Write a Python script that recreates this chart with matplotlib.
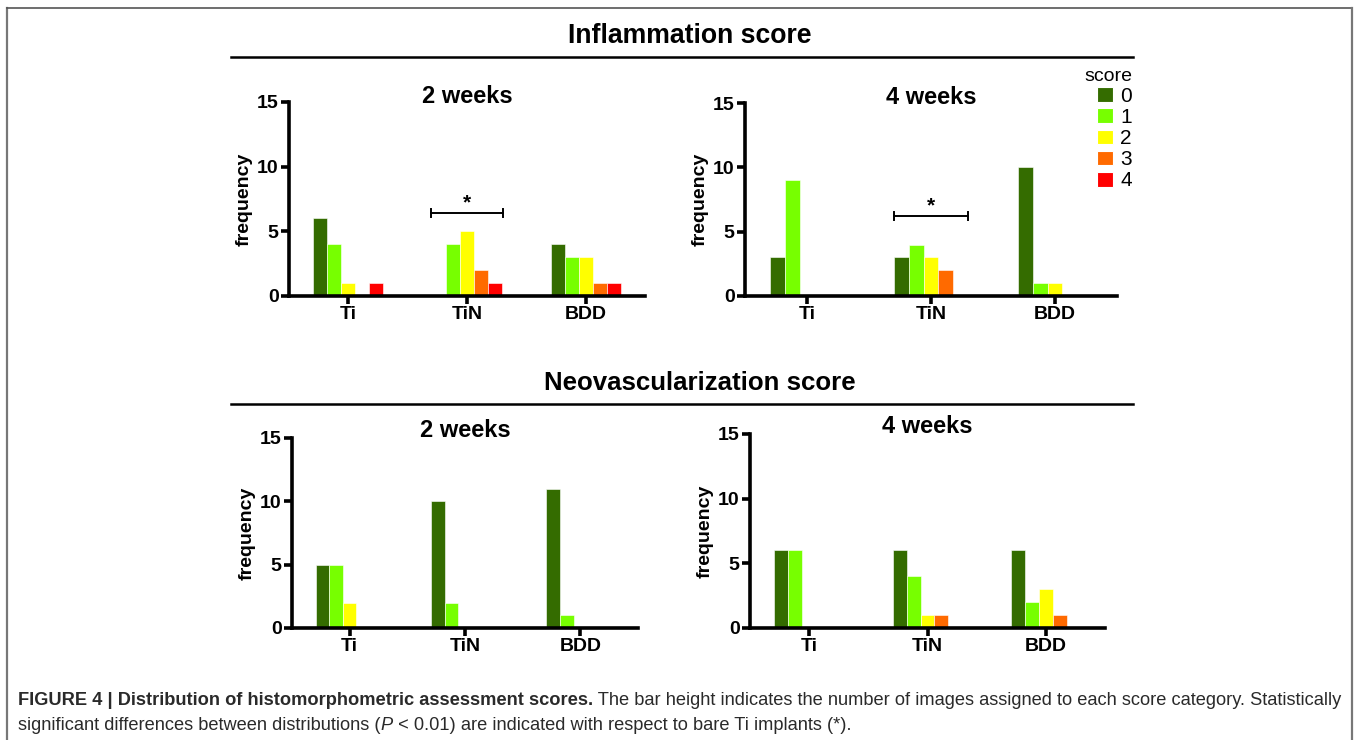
import numpy as np
import matplotlib.pyplot as plt
from matplotlib.patches import Patch
from matplotlib.lines import Line2D

plt.rcParams['font.family'] = ['Liberation Sans', 'DejaVu Sans']

W, H = 1358, 740

groups = ["Ti", "TiN", "BDD"]
scores = ["0", "1", "2", "3", "4"]
colors = ["#346C00", "#77FF00", "#FFFF00", "#FF6A00", "#FF0000"]

# rows = Ti, TiN, BDD ; columns = score 0..4
infl_2w = [[6, 4, 1, 0, 1], [0, 4, 5, 2, 1], [4, 3, 3, 1, 1]]
infl_4w = [[3, 9, 0, 0, 0], [3, 4, 3, 2, 0], [10, 1, 1, 0, 0]]
neo_2w = [[5, 5, 2, 0, 0], [10, 2, 0, 0, 0], [11, 1, 0, 0, 0]]
neo_4w = [[6, 6, 0, 0, 0], [6, 4, 1, 1, 0], [6, 2, 3, 1, 0]]

# significance bar (TiN vs Ti) for inflammation panels
sig_y = [6.4, 6.2]


def fx(x):
    return x / W


def fy(y):
    return 1 - y / H


fig = plt.figure(figsize=(W / 100, H / 100), dpi=100)

# frame around the figure
fig.add_artist(Line2D([fx(7), fx(7)], [fy(8), 0], color="#777777", lw=1.6))
fig.add_artist(Line2D([fx(7), fx(1352)], [fy(8), fy(8)], color="#555555", lw=1.2))
fig.add_artist(Line2D([fx(1352), fx(1352)], [fy(8), 0], color="#777777", lw=1.6))


def panel(box, data, title, sig=None, title_y=1.0):
    # box = (left, top, right, bottom) in pixels
    l, t, r, b = box
    ax = fig.add_axes([fx(l), fy(b), fx(r - l), (b - t) / H])
    vals = np.array(data)
    x = np.arange(len(groups))
    w = 0.118
    for j in range(len(scores)):
        ax.bar(x + (j - 2) * w, vals[:, j], width=w, color=colors[j],
               edgecolor="white", linewidth=0.4, zorder=2)
    ax.set_xlim(-0.5, 2.5)
    ax.set_ylim(0, 15)
    ax.set_yticks([0, 5, 10, 15])
    ax.set_xticks(x)
    ax.set_xticklabels(groups)
    for s in ["top", "right"]:
        ax.spines[s].set_visible(False)
    for s in ["left", "bottom"]:
        ax.spines[s].set_linewidth(2.6)
    ax.tick_params(direction="out", length=6, width=2.6, labelsize=14, pad=1.5)
    for lab in ax.get_xticklabels() + ax.get_yticklabels():
        lab.set_fontweight("bold")
    ax.set_ylabel("frequency", fontsize=14, fontweight="bold", labelpad=3)
    ax.set_title(title, fontsize=17, fontweight="bold", y=title_y)
    if sig is not None:
        ax.plot([0.7, 1.3], [sig, sig], color="black", lw=1.4, zorder=3)
        for xe in [0.7, 1.3]:
            ax.plot([xe, xe], [sig - 0.3, sig + 0.3], color="black", lw=1.4, zorder=3)
        ax.text(1.0, sig + 0.1, "*", ha="center", va="bottom", fontsize=15, fontweight="bold")
    return ax


panel((289, 102, 645, 296), infl_2w, "2 weeks", sig=sig_y[0], title_y=0.95)
panel((745, 103, 1117, 296), infl_4w, "4 weeks", sig=sig_y[1], title_y=0.95)
panel((292, 438, 638, 628), neo_2w, "2 weeks", title_y=0.96)
panel((750, 434, 1105, 628), neo_4w, "4 weeks", title_y=0.96)

# section titles and rules
fig.text(fx(690), fy(36), "Inflammation score", ha="center", va="center",
         fontsize=19.2, fontweight="bold")
fig.add_artist(Line2D([fx(231), fx(1133)], [fy(57), fy(57)], color="black", lw=1.8))
fig.text(fx(700), fy(383), "Neovascularization score", ha="center", va="center",
         fontsize=18.6, fontweight="bold")
fig.add_artist(Line2D([fx(231), fx(1133)], [fy(404), fy(404)], color="black", lw=1.8))

# legend
handles = [Patch(facecolor=c, edgecolor="white", linewidth=0.8) for c in colors]
leg = fig.legend(handles, scores, title="score", loc="upper left",
                 bbox_to_anchor=(fx(1084), fy(68)), frameon=False,
                 fontsize=15, title_fontsize=14, handlelength=0.78, handleheight=0.72,
                 handletextpad=0.35, labelspacing=0.1, borderpad=0, borderaxespad=0)
leg._legend_box.align = "right"

# caption
cap_font = ['Liberation Sans', 'DejaVu Sans']
cap_col = "#2a2a2a"
cap_size = 13.15
t1 = fig.text(fx(18), fy(705), "FIGURE 4 | Distribution of histomorphometric assessment scores.",
              fontsize=cap_size, fontweight="bold", family=cap_font, color=cap_col)
plt.annotate(" The bar height indicates the number of images assigned to each score category. Statistically",
             xy=(1, 0), xycoords=t1, va="bottom", ha="left", fontsize=cap_size,
             family=cap_font, color=cap_col, annotation_clip=False)
t2 = fig.text(fx(18), fy(730), "significant differences between distributions (",
              fontsize=cap_size, family=cap_font, color=cap_col)
t3 = plt.annotate("P", xy=(1, 0), xycoords=t2, va="bottom", ha="left", fontsize=cap_size,
                  style="italic", family=cap_font, color=cap_col, annotation_clip=False)
plt.annotate(" < 0.01) are indicated with respect to bare Ti implants (*).", xy=(1, 0),
             xycoords=t3, va="bottom", ha="left", fontsize=cap_size, family=cap_font,
             color=cap_col, annotation_clip=False)

fig.savefig("out.png", dpi=100)
